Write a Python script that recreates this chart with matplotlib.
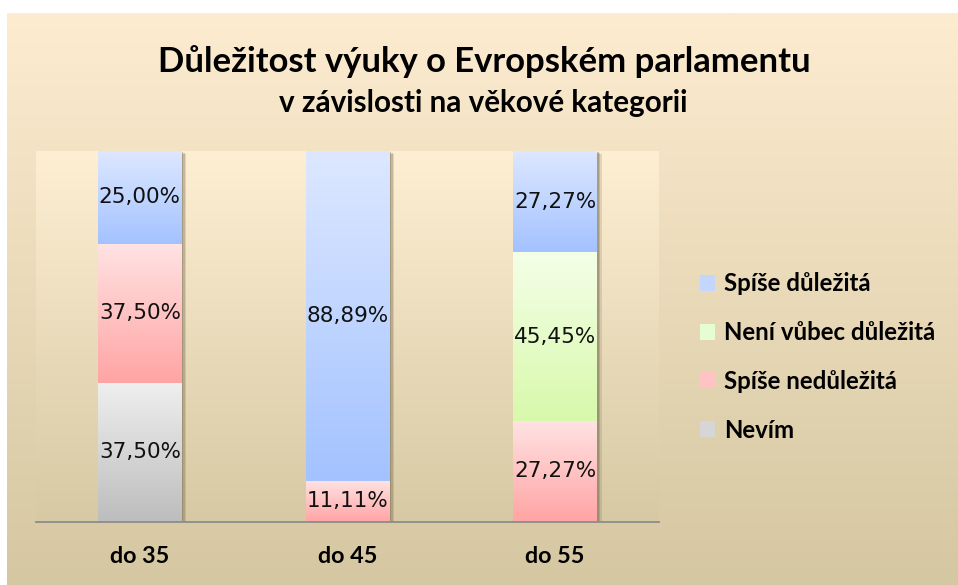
import numpy as np
import matplotlib.pyplot as plt
from matplotlib.colors import to_rgb
from matplotlib.patches import Patch
import matplotlib.patheffects as pe

# data
kategorie = ['do 35', 'do 45', 'do 55']
serie = ['Nevím', 'Spíše nedůležitá', 'Není vůbec důležitá', 'Spíše důležitá']
nevim = [37.50, 0.0, 0.0]
spise_nedulezita = [37.50, 11.11, 27.27]
neni_vubec = [0.0, 0.0, 45.45]
spise_dulezita = [25.00, 88.89, 27.27]
hodnoty = [nevim, spise_nedulezita, neni_vubec, spise_dulezita]

# barvy (horni, dolni) pro kazdou serii
barvy = [('#efefef', '#bdbdbd'),
         ('#ffe3e3', '#ffa4a4'),
         ('#f4ffe8', '#d8f9ab'),
         ('#dde8ff', '#a3c2ff')]

titul_font = 'Lato'


def prechod(horni, dolni, n=256):
    a = np.array(to_rgb(horni))
    b = np.array(to_rgb(dolni))
    t = np.linspace(0, 1, n)[:, None]
    return (a * (1 - t) + b * t)[:, None, :]


W, H = 958, 585
fig = plt.figure(figsize=(W / 100, H / 100), dpi=100)
fig.patch.set_facecolor('white')

# pozadi grafu
bg = fig.add_axes([7 / W, 0, 1 - 7 / W, 572 / H], zorder=0)
bg.imshow(prechod('#fdecd0', '#d5c7a1'), aspect='auto', extent=(0, 1, 0, 1))
bg.axis('off')

ax = fig.add_axes([36 / W, 63 / H, 623 / W, 371 / H], zorder=1)
ax.imshow(prechod('#feefd3', '#d6c9a3'), aspect='auto', extent=(-0.5, 2.5, 0, 100), zorder=0)

x = np.arange(len(kategorie))
sirka = 0.404
spodek = np.zeros(len(kategorie))
stin = [pe.SimplePatchShadow(offset=(3.2, -2.2), shadow_rgbFace='#6e634a', alpha=0.18),
        pe.SimplePatchShadow(offset=(2.2, -1.5), shadow_rgbFace='#6e634a', alpha=0.25),
        pe.SimplePatchShadow(offset=(1.2, -0.8), shadow_rgbFace='#6e634a', alpha=0.3),
        pe.Normal()]

for vals, (horni, dolni) in zip(hodnoty, barvy):
    bars = ax.bar(x, vals, sirka, bottom=spodek, color=dolni, zorder=2, path_effects=stin)
    for b, v in zip(bars, vals):
        if v <= 0:
            continue
        x0, y0 = b.get_x(), b.get_y()
        ax.imshow(prechod(horni, dolni), aspect='auto', zorder=3,
                  extent=(x0, x0 + b.get_width(), y0, y0 + b.get_height()))
        ax.text(x0 + b.get_width() / 2, y0 + b.get_height() / 2,
                f'{v:.2f}%'.replace('.', ','), ha='center', va='center',
                fontsize=15.5, family='DejaVu Sans', color='#111111', zorder=4)
    spodek += np.array(vals)

ax.set_xlim(-0.5, 2.5)
ax.set_ylim(0, 100)
for s in ['top', 'left', 'right']:
    ax.spines[s].set_visible(False)
ax.spines['bottom'].set_color('#8c8c8c')
ax.spines['bottom'].set_linewidth(1.3)
ax.spines['bottom'].set_zorder(5)
ax.set_yticks([])
ax.set_xticks(x)
ax.set_xticklabels(kategorie, fontsize=16.8, fontweight='bold', family=titul_font)
ax.tick_params(axis='x', length=0, pad=17)

fig.text(484 / W, 1 - 62 / H, 'Důležitost výuky o Evropském parlamentu',
         ha='center', va='center', fontsize=24.9, fontweight='bold', family=titul_font)
fig.text(483 / W, 1 - 103 / H, 'v závislosti na věkové kategorii',
         ha='center', va='center', fontsize=21.3, fontweight='bold', family=titul_font)

# legenda shora dolu
handles = [Patch(facecolor='#c3d6fe', label=serie[3]),
           Patch(facecolor='#e6fcd2', label=serie[2]),
           Patch(facecolor='#ffc3c3', label=serie[1]),
           Patch(facecolor='#d6d6d6', label=serie[0])]
fig.legend(handles=handles, loc='center left', bbox_to_anchor=(678 / W, 1 - 357 / H),
           frameon=False, prop={'family': titul_font, 'weight': 'bold', 'size': 17.3},
           handlelength=0.65, handleheight=0.65, handletextpad=0.35, labelspacing=1.07)

fig.savefig('out.png', dpi=100)
